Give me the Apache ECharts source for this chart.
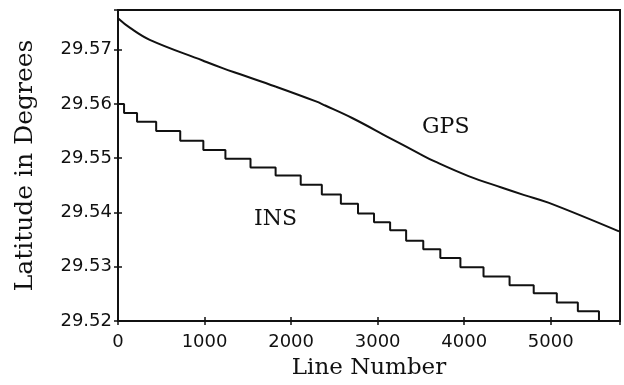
<!DOCTYPE html>
<html>
<head>
<meta charset="utf-8">
<script src="https://cdn.jsdelivr.net/npm/echarts@6/dist/echarts.min.js"></script>
<style>
  html, body { margin: 0; padding: 0; background: #fff; }
  #chart { width: 624px; height: 385px; }
</style>
</head>
<body>
<div id="chart"></div>
<script>
// GPS track
const gpsLines = [0, 140, 367, 978, 1208, 1404, 1819, 2280, 2394, 2705, 3130, 3486, 3659, 4050, 4430, 4695, 4972, 5789];
const gpsValues = [29.5758, 29.5740, 29.5718, 29.5680, 29.5666, 29.5655, 29.5632, 29.5605, 29.5597, 29.5574,
  29.5538, 29.5508, 29.5494, 29.5467, 29.5446, 29.5432, 29.5418, 29.5365];

// INS staircase: line where each step starts and the level after it
const insLines = [0, 70, 220, 441, 719, 986, 1241, 1531, 1821, 2111, 2355, 2575, 2773, 2958, 3144, 3329,
  3527, 3724, 3956, 4223, 4524, 4803, 5070, 5313, 5557];
const insValues = [29.5600, 29.5583, 29.5567, 29.5550, 29.5532, 29.5515, 29.5499, 29.5483, 29.5468, 29.5451,
  29.5433, 29.5416, 29.5398, 29.5382, 29.5367, 29.5348, 29.5332, 29.5316, 29.5299, 29.5282, 29.5266,
  29.5251, 29.5234, 29.5218, 29.5200];

const xTicks = [0, 1000, 2000, 3000, 4000, 5000];
const yTicks = [29.52, 29.53, 29.54, 29.55, 29.56, 29.57];

const tickFont = { fontFamily: 'DejaVu Sans', fontSize: 18, color: '#111' };
const titleFont = { fontFamily: 'DejaVu Serif', fontSize: 23, color: '#111' };

const chart = echarts.init(document.getElementById('chart'));

const yBase = {
  type: 'value', min: 29.52, max: 29.5773, interval: 0.01, position: 'left',
  splitLine: { show: false }
};
const xBase = {
  type: 'value', min: 0, max: 5800, interval: 1000, position: 'bottom',
  splitLine: { show: false }
};

chart.setOption({
  animation: false,
  backgroundColor: '#fff',
  grid: {
    left: 118, right: 4, top: 10, bottom: 63,
    show: true, borderColor: '#111', borderWidth: 2
  },
  xAxis: [
    Object.assign({}, xBase, {
      name: 'Line Number', nameLocation: 'middle', nameGap: 36, nameTextStyle: titleFont,
      axisLine: { show: true, lineStyle: { color: '#111', width: 2 } },
      axisTick: { show: true, length: 4, lineStyle: { color: '#111', width: 1.5 } },
      axisLabel: Object.assign({ margin: 12, formatter: v => xTicks.includes(v) ? String(v) : '' }, tickFont)
    }),
    Object.assign({}, xBase, {
      axisLine: { show: false },
      axisTick: { show: true, inside: true, length: 4, lineStyle: { color: '#111', width: 1.5 } },
      axisLabel: { show: false }
    })
  ],
  yAxis: [
    Object.assign({}, yBase, {
      name: 'Latitude in Degrees', nameLocation: 'middle', nameGap: 80,
      nameTextStyle: Object.assign({}, titleFont, { fontSize: 25 }),
      axisLine: { show: true, lineStyle: { color: '#111', width: 2 } },
      axisTick: { show: true, length: 4, lineStyle: { color: '#111', width: 1.5 } },
      axisLabel: Object.assign({
        margin: 6,
        formatter: v => {
          const t = yTicks.find(k => Math.abs(k - v) < 1e-6);
          return t === undefined ? '' : t.toFixed(2);
        }
      }, tickFont)
    }),
    Object.assign({}, yBase, {
      axisLine: { show: false },
      axisTick: { show: true, inside: true, length: 4, lineStyle: { color: '#111', width: 1.5 } },
      axisLabel: { show: false }
    })
  ],
  series: [
    {
      name: 'GPS', type: 'line', smooth: 0.4, symbol: 'none',
      lineStyle: { color: '#111', width: 2 },
      data: gpsLines.map((x, i) => [x, gpsValues[i]])
    },
    {
      name: 'INS', type: 'line', step: 'end', symbol: 'none',
      lineStyle: { color: '#111', width: 2 },
      data: insLines.map((x, i) => [x, insValues[i]])
    }
  ],
  graphic: [
    { type: 'text', left: 422, top: 116, style: { text: 'GPS', font: '22px "DejaVu Serif"', fill: '#111' } },
    { type: 'text', left: 254, top: 208, style: { text: 'INS', font: '22px "DejaVu Serif"', fill: '#111' } }
  ]
});
</script>
</body>
</html>
